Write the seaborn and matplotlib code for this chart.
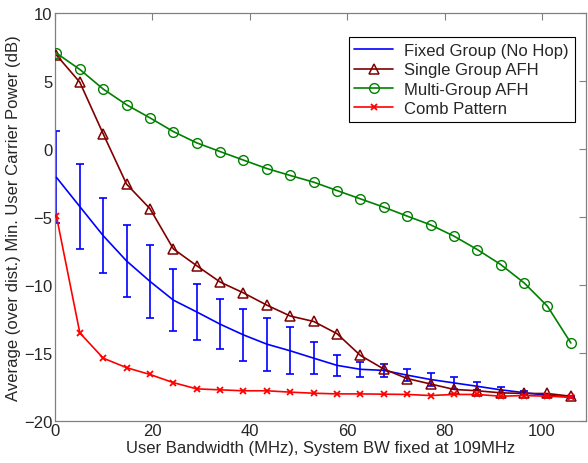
import numpy as np
import pandas as pd
import matplotlib
matplotlib.use("Agg")
import matplotlib.pyplot as plt
import seaborn as sns

# ---- data ----
bandwidth = [0.3, 5.1, 9.9, 14.7, 19.5, 24.3, 29.1, 33.9, 38.7, 43.5, 48.3, 53.1,
             57.9, 62.7, 67.5, 72.3, 77.1, 81.9, 86.7, 91.5, 96.3, 101.1, 105.9]

fixed_group = [-2.1, -4.25, -6.39, -8.25, -9.75, -11.13, -12.0, -12.9, -13.69, -14.37,
               -14.86, -15.4, -15.93, -16.22, -16.3, -16.65, -16.97, -17.22, -17.47,
               -17.73, -17.94, -18.13, -18.27]
fixed_group_err = [3.38, 3.1, 2.76, 2.66, 2.69, 2.3, 2.04, 1.83, 1.92, 1.94, 1.72, 1.18,
                   0.76, 0.57, 0.47, 0.44, 0.49, 0.44, 0.3, 0.2, 0.16, 0.1, 0.05]

single_group = [6.9, 4.9, 1.1, -2.6, -4.4, -7.36, -8.6, -9.8, -10.6, -11.5, -12.3, -12.7,
                -13.6, -15.2, -16.2, -16.9, -17.3, -17.7, -17.8, -17.95, -18.0, -18.0, -18.2]

multi_group = [7.04, 5.84, 4.4, 3.24, 2.28, 1.27, 0.44, -0.2, -0.83, -1.45, -1.96, -2.45,
               -3.07, -3.68, -4.29, -4.95, -5.59, -6.42, -7.41, -8.51, -9.86, -11.58, -14.28]

comb_pattern = [-4.95, -13.54, -15.4, -16.1, -16.6, -17.2, -17.66, -17.73, -17.8, -17.8,
                -17.9, -17.98, -18.03, -18.03, -18.05, -18.07, -18.15, -18.07, -18.07,
                -18.2, -18.15, -18.2, -18.27]

series_names = ["Fixed Group (No Hop)", "Single Group AFH", "Multi-Group AFH", "Comb Pattern"]
x_ticks = [0, 20, 40, 60, 80, 100]
y_ticks = [-20, -15, -10, -5, 0, 5, 10]

# ---- styling ----
sns.set_style("white")
plt.rcParams["font.family"] = ["Liberation Sans", "DejaVu Sans"]

fig = plt.figure(figsize=(5.88, 4.64), dpi=100)
ax = fig.add_axes([0.0935, 0.0912, 0.903, 0.8788])

df = pd.DataFrame({"bw": bandwidth, "fixed": fixed_group, "single": single_group,
                   "multi": multi_group, "comb": comb_pattern})

blue = "#0000FF"
dred = "#800000"
green = "#008000"
red = "#FF0000"

ax.errorbar(bandwidth, fixed_group, yerr=fixed_group_err, fmt="none",
            ecolor=blue, elinewidth=1.2, capsize=3.2, capthick=1.2, zorder=2)
sns.lineplot(data=df, x="bw", y="fixed", ax=ax, color=blue, lw=1.2,
             label=series_names[0], zorder=3)
sns.lineplot(data=df, x="bw", y="single", ax=ax, color=dred, lw=1.2, marker="^",
             markersize=7.5, markerfacecolor="none", markeredgecolor=dred,
             markeredgewidth=1.1, label=series_names[1], zorder=3)
sns.lineplot(data=df, x="bw", y="multi", ax=ax, color=green, lw=1.2, marker="o",
             markersize=7, markerfacecolor="none", markeredgecolor=green,
             markeredgewidth=1.0, label=series_names[2], zorder=3)
sns.lineplot(data=df, x="bw", y="comb", ax=ax, color=red, lw=1.2, marker="x",
             markersize=5, markeredgecolor=red, markeredgewidth=1.3,
             label=series_names[3], zorder=3)

ax.set_xlim(0, 109)
ax.set_ylim(-20, 10)
ax.set_xticks(x_ticks)
ax.set_yticks(y_ticks)
ax.tick_params(direction="in", length=5, width=0.8, color="#808080",
               labelsize=12, top=True, right=True, pad=2)
for s in ax.spines.values():
    s.set_visible(True)
    s.set_color("#808080")
    s.set_linewidth(0.9)

ax.set_xlabel("User Bandwidth (MHz), System BW fixed at 109MHz", fontsize=12, labelpad=1)
ax.set_ylabel("Average (over dist.) Min. User Carrier Power (dB)", fontsize=12, labelpad=2)

leg = ax.legend(loc="upper right", bbox_to_anchor=(0.979, 0.940), fontsize=12,
                frameon=True, fancybox=False, edgecolor="black", framealpha=1,
                handlelength=2.3, handletextpad=0.7, borderpad=0.35, labelspacing=0.25,
                borderaxespad=0)
leg.get_frame().set_linewidth(0.8)

fig.savefig("out.png", dpi=100)
